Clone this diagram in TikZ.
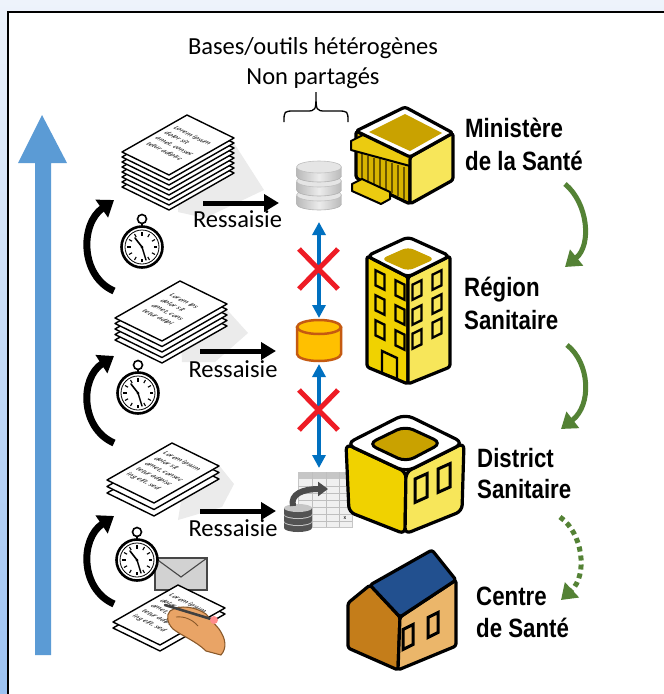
\documentclass[tikz,border=0pt]{standalone}
\usepackage{fontspec}
\setmainfont{Carlito}
\newfontfamily\lblfont[FakeStretch=0.84]{Liberation Sans}
\usetikzlibrary{arrows.meta,calc}

\definecolor{bgtop}{HTML}{EEF3FB}
\definecolor{bgbot}{HTML}{9CC2F2}
\definecolor{skyblue}{HTML}{5B9BD5}
\definecolor{dbblue}{HTML}{0070C0}
\definecolor{xred}{HTML}{EE1C25}
\definecolor{leaf}{HTML}{548235}
\definecolor{gold}{HTML}{C9A200}
\definecolor{yelL}{HTML}{F0D200}
\definecolor{yelR}{HTML}{F7E65A}
\definecolor{minL}{HTML}{D8B400}
\definecolor{minP}{HTML}{EBCB10}
\definecolor{colline}{HTML}{6B5500}
\definecolor{roofblue}{HTML}{22508F}
\definecolor{woodL}{HTML}{C47D1A}
\definecolor{woodR}{HTML}{EBB66A}
\definecolor{cylfill}{HTML}{FFC000}
\definecolor{cylline}{HTML}{C55A11}
\definecolor{skin}{HTML}{E9A466}
\definecolor{skinline}{HTML}{8A5A2B}
\definecolor{shadowgray}{HTML}{EBEBEB}

\tikzset{
  title/.style={font=\fontsize{24.5}{29}\selectfont, inner sep=0pt},
  ressaisie/.style={font=\fontsize{24.5}{29}\selectfont, inner sep=0pt},
  lbl/.style={font=\lblfont\bfseries\fontsize{26.5}{30}\selectfont, inner sep=0pt, anchor=base west},
  sheet/.style={draw=black, fill=white, line width=1.4, line join=round},
  note/.style={cm={0.898,-0.44,0.869,0.495,(0,0)}, font=\fontsize{7.5}{10.5}\selectfont\itshape, align=left, inner sep=0pt},
  bld/.style={draw=black, line width=3.2, line join=round, rounded corners=2.5},
  win/.style={draw=black, line width=2.4, line join=miter},
  ress/.style={line width=5, -{Triangle[width=17,length=15]}},
  dbarrow/.style={dbblue, line width=3.5, {Triangle[width=13,length=13]}-{Triangle[width=13,length=13]}},
  cross/.style={xred, line width=5},
  turn/.style={line width=7, -{Triangle[width=21,length=15]}},
  garr/.style={leaf, line width=5, -{Triangle[width=20,length=15]}},
}

% a stack of isometric sheets, top sheet left corner at (#1,#2)
\newcommand\drawstack[5]{%
  \begin{scope}[shift={(#1,#2)}]
    \foreach \k in {#3,...,0}
      \draw[sheet] (0,\k*#4) -- ++(65,-37) -- ++(47,23) -- ++(-65,37) -- cycle;
    \node[note] at (57,-8) {#5};
  \end{scope}}

% a pocket stopwatch centred at (#1,#2)
\newcommand\drawchrono[2]{%
  \begin{scope}[shift={(#1,#2)}]
    \draw[line width=1.6, fill=white] (0,-28) circle (4.5);
    \draw[line width=2.2] (0,-23.5) -- (0,-20);
    \draw[line width=2.6, fill=white] (0,0) circle (20.5);
    \draw[line width=0.8] (0,0) circle (17);
    \foreach \a in {0,30,...,330}
      \draw[line width=1.1] ({15*cos(\a)},{15*sin(\a)}) -- ({11.5*cos(\a)},{11.5*sin(\a)});
    \draw[line width=1.6, line cap=round] (0,0) -- (-7,-9);
    \draw[line width=1.4, line cap=round] (0,0) -- (4,13);
    \fill (0,0) circle (1.5);
  \end{scope}}

% windows on the faces of the buildings (centre x, centre y)
\newcommand\winL[2]{\draw[win] (#1-4.5,#2-9.7) -- (#1+4.5,#2-5.3) -- (#1+4.5,#2+9.7) -- (#1-4.5,#2+5.3) -- cycle;}
\newcommand\winR[2]{\draw[win] (#1-4.5,#2-5.3) -- (#1+4.5,#2-9.7) -- (#1+4.5,#2+5.3) -- (#1-4.5,#2+9.7) -- cycle;}
\newcommand\winD[2]{\draw[win, line width=3] (#1-6,#2-9) -- (#1+6,#2-14.4) -- (#1+6,#2+9) -- (#1-6,#2+14.4) -- cycle;}
\newcommand\winH[2]{\draw[win, line width=3] (#1-5,#2-7.5) -- (#1+5,#2-12.5) -- (#1+5,#2+7.5) -- (#1-5,#2+12.5) -- cycle;}

\begin{document}
\begin{tikzpicture}[x=1pt,y=-1pt]
\clip (0,0) rectangle (664,694);
\shade[top color=bgtop, bottom color=bgbot] (0,0) rectangle (664,694);
\draw[line width=1.6, fill=white] (8,12) rectangle (690,710);

% heading with brace
\node[title, anchor=base] (t1) at (313,54) {Bases/outils hétérogènes};
\node[title, anchor=base] (t2) at (313,84) {Non partagés};
\draw[line width=1.3] (284,122) .. controls (284,111) .. (295,111) -- (306,111)
  .. controls (316,111) .. (316,92) .. controls (316,111) .. (326,111) -- (337,111)
  .. controls (348,111) .. (348,122);

% big blue time arrow
\fill[skyblue] (35,655) -- (35,163) -- (18,163) -- (42,115) -- (67,163) -- (51,163) -- (51,655) -- cycle;

% shadows behind the stacks
\fill[shadowgray] (178,160) -- (232,140) -- (264,190) -- (205,218) -- (178,212) -- cycle;
\fill[shadowgray] (180,320) -- (220,302) -- (248,333) -- (215,362) -- (182,362) -- cycle;
\fill[shadowgray] (185,476) -- (218,464) -- (234,484) -- (222,507) -- (178,520) -- cycle;

% envelope
\draw[fill=gray!35, draw=gray!55!black, line width=1.1] (155,558) rectangle (207,590);
\draw[gray!55!black, line width=1.1] (155,558) -- (181,577) -- (207,558);

% paper stacks
\drawstack{122}{152}{7}{5}{Lorem ipsum\\dolor sit\\amet, consec\\tetur adipisc}
\drawstack{115}{318}{4}{5.5}{Lorem ips\\dolor sit\\amet, cons\\tetur adipi}
\drawstack{107}{480}{2}{6.5}{Lorem ipsum\\dolor sit\\amet, consec\\tetur adipisc\\ing elit, sed}
\drawstack{113}{622}{1}{6}{Lorem ipsum\\dolor sit\\amet, consec\\tetur adipisc\\ing elit, sed}

% writing hand with pen
\draw[skinline, fill=skin, line width=1.1, line join=round] (170,611)
  .. controls (180,604) and (196,607) .. (206,614) -- (219,629)
  .. controls (226,639) and (227,648) .. (221,655) -- (206,651)
  .. controls (196,641) and (182,636) .. (173,629)
  .. controls (167,623) and (166,615) .. (170,611) -- cycle;
\draw[skinline, line width=0.9] (176,617) .. controls (185,616) and (193,620) .. (198,626);
\draw[line width=2.6, gray!50!black, line cap=round] (165,605) -- (211,619);
\fill[red!45!white] (214,620) circle (4);

% stopwatches
\drawchrono{142}{247}
\drawchrono{138}{393}
\drawchrono{137}{560}

% turning arrows between the levels
\coordinate (c1a) at (114,291); \coordinate (c1b) at (114,200);
\coordinate (c2a) at (114,443); \coordinate (c2b) at (114,356);
\coordinate (c3a) at (114,604); \coordinate (c3b) at (114,516);
\draw[turn] (c1a) .. controls (80,276) and (80,224) .. (c1b);
\draw[turn] (c2a) .. controls (80,428) and (80,378) .. (c2b);
\draw[turn] (c3a) .. controls (80,589) and (80,539) .. (c3b);

% re-keying arrows
\coordinate (r1a) at (203,203); \coordinate (r1b) at (279,203);
\coordinate (r2a) at (200,351); \coordinate (r2b) at (276,351);
\coordinate (r3a) at (200,511); \coordinate (r3b) at (276,511);
\draw[ress] (r1a) -- (r1b);
\draw[ress] (r2a) -- (r2b);
\draw[ress] (r3a) -- (r3b);
\node[ressaisie, anchor=base] (rs1) at (237.5,227) {Ressaisie};
\node[ressaisie, anchor=base] (rs2) at (233,377) {Ressaisie};
\node[ressaisie, anchor=base] (rs3) at (233,536) {Ressaisie};

% grey database
\foreach \yy in {195,181,167} {
  \shade[left color=gray!55, right color=gray!55, middle color=gray!15]
    (296.5,\yy) -- (296.5,\yy+9) arc (180:0:22.5 and 6) -- (341.5,\yy) -- cycle;
  \draw[gray!60, line width=0.6] (296.5,\yy+9) arc (180:0:22.5 and 6);
  \fill[gray!20] (319,\yy) ellipse (22.5 and 6);
  \draw[gray!50, line width=0.6] (319,\yy) ellipse (22.5 and 6);
}

% orange database
\draw[cylline, fill=cylfill, line width=2.5] (297,327) -- (297,354) arc (180:0:22 and 7) -- (341,327);
\draw[cylline, fill=cylfill, line width=2.5] (319,327) ellipse (22 and 7);

% spreadsheet with small database
\draw[fill=gray!12, draw=gray!45, line width=1] (298,472) rectangle (352,527);
\fill[gray!45] (298,472) rectangle (352,479);
\foreach \gx in {312,326,339} \draw[gray!50, line width=0.7] (\gx,472) -- (\gx,527);
\foreach \gy in {486,493,500,507,514,521} \draw[gray!50, line width=0.7] (298,\gy) -- (352,\gy);
\node[font=\fontsize{6}{6}\selectfont, inner sep=0pt] (xl) at (345,518) {x};
\foreach \yy in {522,515,508} {
  \fill[gray!65!black] (284,\yy) rectangle (312,\yy+6);
  \fill[gray!65!black] (298,\yy+6) ellipse (14 and 4);
  \fill[gray!45] (298,\yy) ellipse (14 and 4);
}
\draw[gray!60!black, line width=6, -{Triangle[width=14,length=10]}] (293,506) .. controls (290,494) and (303,489) .. (328,489);

% blocked exchanges
\coordinate (b1a) at (319,222); \coordinate (b1b) at (319,318);
\coordinate (b2a) at (319,364); \coordinate (b2b) at (319,468);
\draw[dbarrow] (b1a) -- (b1b);
\draw[dbarrow] (b2a) -- (b2b);
\draw[cross] (299,249) -- (338,289) (338,249) -- (299,289);
\draw[cross] (299,390) -- (338,430) (338,390) -- (299,430);

% ministry
\draw[bld, fill=minL] (356,131) -- (410,157) -- (410,204) -- (356,178) -- cycle;
\foreach \cx in {362,368,...,404}
  \draw[line width=1.8, colline] (\cx,{151+0.31*(\cx-353)}) -- (\cx,{176+0.48*(\cx-356)});
\draw[line width=2, fill=minP, line join=round] (351,141) -- (371,131) -- (410,157) -- (410,166) -- (351,150) -- cycle;
\draw[line width=2, fill=minP, line join=round] (352,184) -- (362,179) -- (390,192) -- (390,199) -- (381,204) -- (352,191) -- cycle;
\draw[bld, fill=yelR] (410,157) -- (453,133) -- (453,180) -- (410,204) -- cycle;
\draw[bld, fill=white] (405,107) -- (356,131) -- (410,157) -- (453,133) -- cycle;
\fill[gold] (405,114) -- (369,132) -- (410,151) -- (442,133) -- cycle;

% regional tower
\draw[bld, fill=yelL] (367,256) -- (408,277) -- (408,384) -- (367,367) -- cycle;
\draw[bld, fill=yelR] (408,277) -- (450,256) -- (450,367) -- (408,384) -- cycle;
\draw[bld, fill=white, rounded corners=5] (408,237) -- (367,256) -- (408,277) -- (450,256) -- cycle;
\fill[gold, rounded corners=6] (408,247) -- (381,259) -- (408,271) -- (435,259) -- cycle;
\winL{380}{280} \winL{380}{305} \winL{380}{330}
\winL{400}{290} \winL{400}{315} \winL{400}{340}
\winR{417}{290} \winR{417}{315} \winR{417}{339}
\winR{437}{280} \winR{437}{304} \winR{437}{328}
\draw[win] (382,351) -- (397,358) -- (397,379) -- (382,373) -- cycle;

% district block
\draw[bld, fill=yelL, rounded corners=6] (346,444) -- (406,472) -- (405,534) -- (349,512) -- cycle;
\draw[bld, fill=yelR, rounded corners=6] (406,472) -- (464,443) -- (462,511) -- (405,534) -- cycle;
\draw[bld, fill=white, rounded corners=9] (405,414) -- (346,444) -- (406,472) -- (464,443) -- cycle;
\draw[line width=3, fill=gold, rounded corners=9] (405,426) -- (368,444) -- (406,462) -- (442,443) -- cycle;
\winD{421}{488} \winD{444}{478}

% health centre
\draw[bld, fill=woodL] (348,603) -- (370,585) -- (400,617) -- (398,670) -- (348,648) -- cycle;
\draw[bld, fill=woodR] (400,617) -- (456,580) -- (456,646) -- (398,670) -- cycle;
\draw[bld, fill=roofblue] (370,585) -- (432,550) -- (456,580) -- (400,617) -- cycle;
\winH{408}{637} \winH{433}{625}

% level labels
\node[lbl] (m1) at (465,137) {Ministère};
\node[lbl] (m2) at (465,170) {de la Santé};
\node[lbl] (g1) at (464,296) {Région};
\node[lbl] (g2) at (464,329) {Sanitaire};
\node[lbl] (d1) at (477,467) {District};
\node[lbl] (d2) at (477,498) {Sanitaire};
\node[lbl] (e1) at (476,605) {Centre};
\node[lbl] (e2) at (476,637) {de Santé};

% hierarchy arrows
\coordinate (h1a) at (565,184); \coordinate (h1b) at (565,267);
\coordinate (h2a) at (567,345); \coordinate (h2b) at (561,429);
\coordinate (h3a) at (560,517); \coordinate (h3b) at (561,600);
\draw[garr] (h1a) .. controls (588,203) and (592,245) .. (h1b);
\draw[garr] (h2a) .. controls (590,363) and (592,405) .. (h2b);
\draw[garr, dash pattern=on 5pt off 4pt] (h3a) .. controls (583,533) and (588,575) .. (h3b);
\end{tikzpicture}
\end{document}
